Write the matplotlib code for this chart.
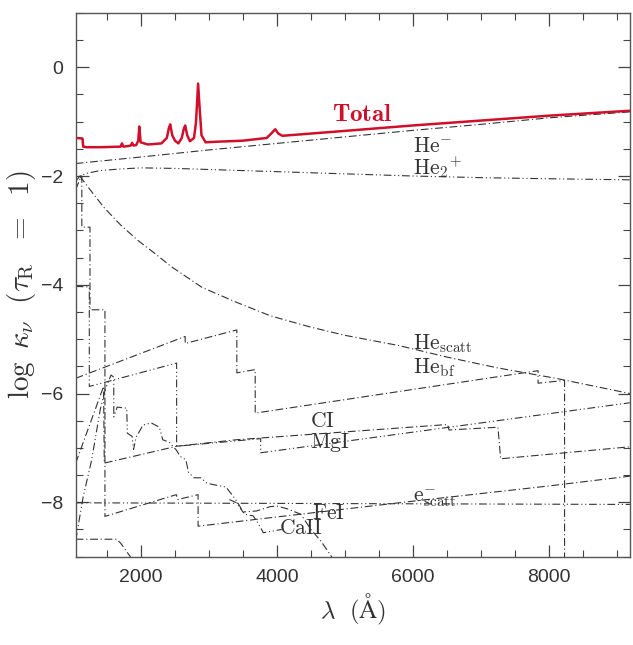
import matplotlib
matplotlib.use("Agg")
import matplotlib.pyplot as plt
import numpy as np

plt.rcParams['mathtext.fontset'] = 'cm'

# wavelength (A) / log kappa
total_x = [1040, 1140, 1150, 1200, 1400, 1700, 1720, 1740, 1800, 1850, 1870, 1890, 1930, 1960, 1975,
           1995, 2100, 2300, 2380, 2410, 2430, 2460, 2500, 2550, 2600, 2630, 2650, 2680, 2720, 2780,
           2810, 2840, 2860, 2890, 2950, 3100, 3500, 3850, 3930, 3975, 4020, 4080, 5000, 6000, 7000,
           8000, 9190]
total_y = [-1.30, -1.31, -1.46, -1.47, -1.47, -1.46, -1.40, -1.46, -1.45, -1.44, -1.39, -1.44, -1.43,
           -1.35, -1.09, -1.38, -1.42, -1.40, -1.30, -1.12, -1.05, -1.25, -1.35, -1.40, -1.30, -1.13,
           -1.07, -1.25, -1.36, -1.30, -1.00, -0.30, -0.70, -1.25, -1.38, -1.37, -1.35, -1.30, -1.20,
           -1.14, -1.22, -1.26, -1.17, -1.07, -0.98, -0.89, -0.80]

hem_x = [1040, 2000, 3000, 4000, 5000, 6000, 7000, 8000, 9190]
hem_y = [-1.77, -1.65, -1.52, -1.40, -1.28, -1.16, -1.05, -0.93, -0.82]

he2_x = [1040, 1100, 1200, 1400, 1700, 2000, 2500, 3000, 4000, 5000, 6000, 7000, 8000, 9190]
he2_y = [-2.10, -2.00, -1.95, -1.90, -1.87, -1.85, -1.86, -1.88, -1.92, -1.96, -2.00, -2.03, -2.05, -2.07]

hesc_x = [1100, 1130, 1250, 1450, 1700, 1950, 2200, 2450, 2900, 3400, 3900, 4500, 5000, 5800, 6500,
          7250, 8100, 9190]
hesc_y = [-2.00, -2.05, -2.25, -2.57, -2.90, -3.18, -3.42, -3.67, -4.05, -4.32, -4.57, -4.78, -4.93,
          -5.12, -5.33, -5.53, -5.72, -6.00]

hebf_x = [1040, 2650, 2650, 3410, 3410, 3680, 3680, 7840, 7840, 8230, 8230]
hebf_y = [-5.72, -4.95, -5.08, -4.83, -5.62, -5.56, -6.36, -5.58, -5.81, -5.76, -9.5]

mg_x = [1040, 1240, 1240, 2524, 2524, 3760, 3760, 9190]
mg_y = [-4.03, -4.04, -5.87, -5.44, -6.97, -6.83, -7.09, -6.17]

ci_x = [1040, 1450, 1460, 2524, 3406, 6510, 6530, 7250, 7290, 9190]
ci_y = [-7.28, -5.87, -7.28, -6.97, -6.85, -6.57, -6.67, -6.62, -7.20, -6.98]

step_x = [1040, 1120, 1130, 1130, 1250, 1250, 1470, 1470, 2520, 2540, 2840, 2840, 4000, 6000, 8000, 9190]
step_y = [-2.25, -2.00, -2.00, -2.94, -2.94, -4.46, -4.46, -8.26, -7.86, -7.95, -7.86, -8.44, -8.27,
          -7.98, -7.70, -7.52]

ca_x = [1040, 1150, 1275, 1400, 1480, 1560, 1600, 1600, 1650, 1790, 1800, 1870, 1890, 1930, 2030,
        2150, 2270, 2320, 2420, 2520, 2580, 2660, 2700, 2780, 2880, 2960, 3040, 3250, 3350, 3420,
        3520, 3650, 3720, 3800, 4070]
ca_y = [-8.70, -7.90, -7.22, -6.30, -5.90, -5.66, -5.70, -6.43, -6.25, -6.27, -6.73, -6.79, -7.03,
        -6.80, -6.58, -6.54, -6.62, -6.85, -6.90, -7.04, -7.16, -7.22, -7.45, -7.55, -7.55, -7.64,
        -7.67, -7.72, -7.88, -8.00, -8.22, -8.25, -8.38, -8.56, -8.50]

fe_x = [3300, 3406, 3500, 3700, 3900, 4000, 4150, 4350, 4500, 4650, 4830]
fe_y = [-7.95, -8.01, -8.18, -8.16, -8.08, -8.07, -8.12, -8.22, -8.50, -8.72, -9.05]

low_x = [1040, 1640, 1700, 1900]
low_y = [-8.68, -8.68, -8.75, -9.10]

esc_x = [1040, 9190]
esc_y = [-8.01, -8.04]

fig = plt.figure(figsize=(6.33, 6.45), dpi=100)
ax = fig.add_axes([0.1196, 0.137, 0.8754, 0.843])

dd = (0, (7, 2.5, 1, 2.5))
ddd = (0, (7, 2.5, 1, 2.5, 1, 2.5))
lc = '#333333'
lw = 0.8

ax.plot(hem_x, hem_y, color=lc, lw=lw, ls=dd)
ax.plot(he2_x, he2_y, color=lc, lw=lw, ls=ddd)
ax.plot(hesc_x, hesc_y, color=lc, lw=lw, ls=dd)
ax.plot(hebf_x, hebf_y, color=lc, lw=lw, ls=dd)
ax.plot(mg_x, mg_y, color=lc, lw=lw, ls=ddd)
ax.plot(ci_x, ci_y, color=lc, lw=lw, ls=dd)
ax.plot(step_x, step_y, color=lc, lw=lw, ls=dd)
ax.plot(ca_x, ca_y, color=lc, lw=lw, ls=ddd)
ax.plot(fe_x, fe_y, color=lc, lw=lw, ls=dd)
ax.plot(low_x, low_y, color=lc, lw=lw, ls=dd)
ax.plot(esc_x, esc_y, color=lc, lw=lw, ls=ddd)
ax.plot(total_x, total_y, color='#d0102a', lw=1.8)

ax.set_xlim(1040, 9190)
ax.set_ylim(-9, 1)

fs = 15.5
tc = '#333333'
ax.text(5250, -0.98, r'$\mathbf{Total}$', color='#d0102a', fontsize=18, ha='center', va='baseline')
ax.text(6000, -1.55, r'$\mathrm{He}^{-}$', fontsize=fs, color=tc, va='baseline')
ax.text(6000, -1.97, r'$\mathrm{He_2}^{+}$', fontsize=fs, color=tc, va='baseline')
ax.text(6000, -5.18, r'$\mathrm{He_{scatt}}$', fontsize=fs, color=tc, va='baseline')
ax.text(6000, -5.62, r'$\mathrm{He_{bf}}$', fontsize=fs, color=tc, va='baseline')
ax.text(4487, -6.62, r'$\mathrm{CI}$', fontsize=fs, color=tc, va='baseline')
ax.text(4487, -7.00, r'$\mathrm{MgI}$', fontsize=fs, color=tc, va='baseline')
ax.text(6000, -7.98, r'$\mathrm{e}^{-}_{\mathrm{scatt}}$', fontsize=fs, color=tc, va='baseline')
ax.text(4520, -8.30, r'$\mathrm{FeI}$', fontsize=fs, color=tc, va='baseline')
ax.text(4030, -8.58, r'$\mathrm{CaII}$', fontsize=fs, color=tc, va='baseline')

ax.set_xticks([2000, 4000, 6000, 8000])
ax.set_xticks(np.arange(1500, 9200, 500), minor=True)
ax.set_yticks([0, -2, -4, -6, -8])
ax.set_yticks(np.arange(-9, 1.01, 0.5), minor=True)
ax.tick_params(which='both', direction='in', top=True, right=True, color='#444444')
ax.tick_params(which='major', length=9, width=0.9, labelsize=14, pad=9)
ax.tick_params(which='minor', length=5, width=0.8)
for t in ax.get_xticklabels() + ax.get_yticklabels():
    t.set_fontfamily('Liberation Sans')
    t.set_color('#333333')
for s in ax.spines.values():
    s.set_linewidth(1.0)
    s.set_color('#555555')

ax.set_xlabel(r'$\lambda\ \ (\mathrm{\AA})$', fontsize=18, color='#333333', labelpad=4)
ax.set_ylabel(r'$\log\ \kappa_\nu\ \ (\tau_\mathrm{R}\ \ =\ \ 1)$', fontsize=21, color='#333333', labelpad=2)

fig.savefig('out.png', dpi=100)
